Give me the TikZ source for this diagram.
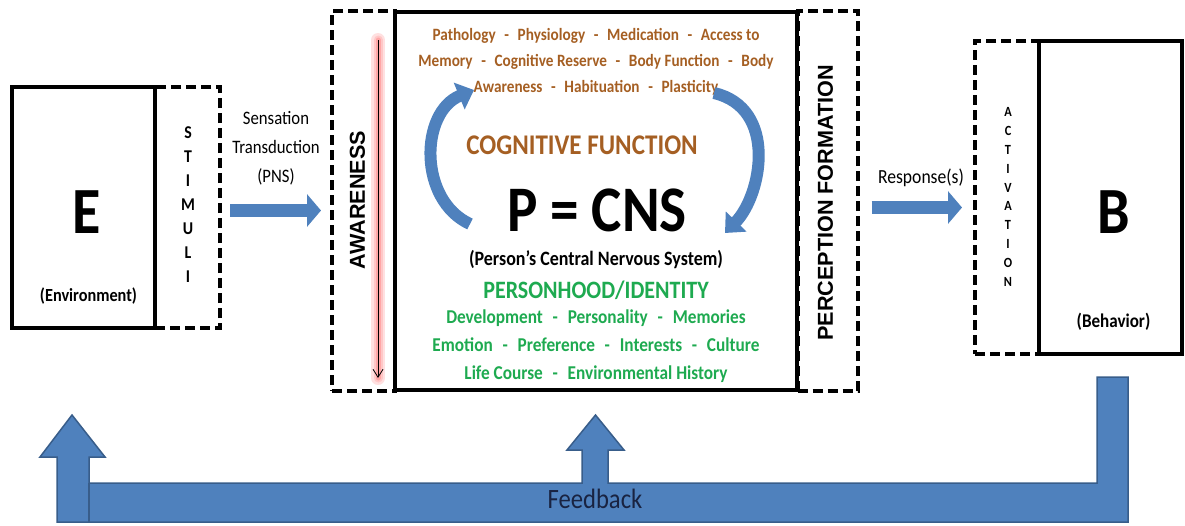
\documentclass[tikz,border=0pt]{standalone}
\usepackage{fontspec}
\setmainfont{Carlito}[FakeStretch=0.88]
\newfontfamily\arialb{Liberation Sans}[BoldFont={Liberation Sans Bold}]
\usetikzlibrary{arrows.meta,calc}
\definecolor{fb}{RGB}{79,129,189}
\definecolor{fbd}{RGB}{56,93,138}
\definecolor{brn}{RGB}{165,95,35}
\definecolor{grn}{RGB}{30,170,80}
\definecolor{navy}{RGB}{25,35,65}
\newcommand{\fs}[2]{\fontsize{#1}{#2}\selectfont}
\newcommand{\sep}{\enspace-\enspace}
\begin{document}
\begin{tikzpicture}[x=1pt,y=-1pt,
  solidbox/.style={draw=black,line width=4pt,inner sep=0pt,rectangle},
  dashbox/.style={draw=black,line width=4pt,dash pattern=on 10pt off 5pt,inner sep=0pt,rectangle},
  blockarrow/.style={line width=13pt,draw=fb,-{Triangle[width=32pt,length=14pt]}},
  curvarrow/.style={line width=12pt,draw=fb,-{Triangle[width=28pt,length=16pt]}},
  lbl/.style={inner sep=0pt,align=center},
  brntxt/.style={lbl,text=brn,font=\bfseries\fs{17.3}{26}},
  grntxt/.style={lbl,text=grn,font=\bfseries\fs{19.6}{28}},
  vert/.style={lbl,font=\bfseries\fs{18}{24}},
  rottxt/.style={lbl,rotate=90,font=\arialb\bfseries\fs{21.6}{21.6}}
]
\useasboundingbox (0,0) rectangle (1185,525);

% boxes
\node[dashbox,minimum width=65pt,minimum height=241pt] (stim) at (187.5,207.5) {};
\node[solidbox,minimum width=143pt,minimum height=241pt] (E) at (83.5,207.5) {};
\node[dashbox,minimum width=63pt,minimum height=380pt] (aw) at (363.5,201) {};
\node[dashbox,minimum width=60pt,minimum height=380pt] (pf) at (827.5,201) {};
\node[solidbox,minimum width=402pt,minimum height=378pt] (cns) at (596,201) {};
\node[dashbox,minimum width=64pt,minimum height=313pt] (act) at (1007,197.5) {};
\node[solidbox,minimum width=143pt,minimum height=313pt] (B) at (1110.5,197.5) {};

% E box
\node[lbl,font=\bfseries\fs{66}{66}] (Et) at (86.5,212) {E};
\node[lbl,font=\bfseries\fs{18.5}{18.5}] (Ent) at (88.5,296) {(Environment)};
\node[vert] (stimt) at (188,205) {S\\T\\I\\M\\U\\L\\I};

% sensation
\node[lbl,font=\fs{19}{29}] (sens) at (276,148) {Sensation\\Transduction\\(PNS)};
\draw[blockarrow] ($(stim.east)+(8,3)$) -- ($(stim.east -| aw.west)+(-9,3)$);

% awareness
\coordinate (gtop) at (378,40);
\coordinate (gbot) at (378,378);
\draw[line width=14pt,red!12,line cap=round] (gtop) -- (gbot);
\draw[line width=9pt,red!22,line cap=round] (gtop) -- (gbot);
\draw[line width=5pt,red!35,line cap=round] (gtop) -- (gbot);
\draw[line width=0.8pt,-{Straight Barb[length=8pt,width=10pt]}] (gtop) -- (gbot);
\node[rottxt] (awt) at (357.5,200) {AWARENESS};

% CNS contents
\node[brntxt] (cogl) at (596,62) {Pathology\sep Physiology\sep Medication\sep Access to\\Memory\sep Cognitive Reserve\sep Body Function\sep Body\\Awareness\sep Habituation\sep Plasticity};
\node[lbl,text=brn,font=\bfseries\fs{28.5}{28.5}] (cf) at (582,145) {COGNITIVE FUNCTION};
\node[lbl,font=\bfseries\fs{65}{65}] (pcns) at (597,210) {P = CNS};
\node[lbl,font=\bfseries\fs{20.4}{20.4}] (pcs) at (596,260) {(Person’s Central Nervous System)};
\node[lbl,text=grn,font=\bfseries\fs{25}{25}] (ph) at (596,290) {PERSONHOOD/IDENTITY};
\node[grntxt] (phl) at (596,346) {Development\sep Personality\sep Memories\\Emotion\sep Preference\sep Interests\sep Culture\\Life Course\sep Environmental History};

\draw[curvarrow] (470,224) .. controls (418,200) and (420,112) .. (474,90);
\draw[curvarrow] (714,93) .. controls (778,108) and (762,195) .. (725,233);

% perception
\node[rottxt] (pft) at (825.5,203) {PERCEPTION FORMATION};

% response
\node[lbl,font=\fs{20}{20}] (resp) at (921,178) {Response(s)};
\draw[blockarrow] ($(pf.east |- act.west)+(12,10)$) -- ($(act.west)+(-11,10)$);

% B box
\node[vert,font=\bfseries\fs{14}{18.9}] (actt) at (1008,197) {A\\C\\T\\I\\V\\A\\T\\I\\O\\N};
\node[lbl,font=\bfseries\fs{66}{66}] (Bt) at (1113.5,212) {B};
\node[lbl,font=\bfseries\fs{19.4}{19.4}] (Bht) at (1113.5,322) {(Behavior)};

% feedback
\coordinate (fbR) at (1097,377);
\coordinate (fbL) at (72,415);
\coordinate (fbM) at (595.5,415);
\draw[fill=fb,draw=fbd,line width=1.5pt,line join=miter]
  (fbR) -- (1128,377) -- (1128,522) -- (57,522) -- (57,457) -- (40,457) -- (fbL)
  -- (105,457) -- (89,457) -- (89,483) -- (582,483) -- (582,450) -- (567,450) -- (fbM)
  -- (624,450) -- (608,450) -- (608,483) -- (1097,483) -- cycle;
\draw[fbd,line width=1.5pt] (89,483) -- (89,522);
\node[lbl,text=navy,font=\fs{28}{28}] (fbt) at (595,499) {Feedback};
\end{tikzpicture}
\end{document}
